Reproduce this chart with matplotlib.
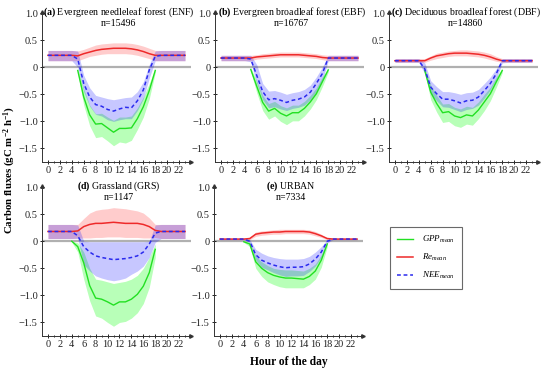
import numpy as np
import matplotlib
matplotlib.use("Agg")
import matplotlib.pyplot as plt
from matplotlib.lines import Line2D

plt.rcParams['font.family'] = ['Liberation Serif', 'DejaVu Serif']
plt.rcParams['mathtext.fontset'] = 'custom'
plt.rcParams['mathtext.rm'] = 'Liberation Serif'
plt.rcParams['mathtext.it'] = 'Liberation Serif:italic'
plt.rcParams['mathtext.bf'] = 'Liberation Serif:bold'

nan = np.nan
hours = np.arange(24)

# (a) ENF
enf_re = [0.22] * 5 + [0.21, 0.25, 0.28, 0.31, 0.33, 0.34, 0.35, 0.35, 0.35, 0.34, 0.32, 0.29, 0.25, 0.22] + [0.22] * 5
enf_re_hi = [0.31] * 5 + [0.30, 0.33, 0.37, 0.41, 0.43, 0.44, 0.45, 0.45, 0.45, 0.44, 0.42, 0.39, 0.35, 0.31] + [0.31] * 5
enf_re_lo = [0.12] * 5 + [0.12, 0.16, 0.20, 0.22, 0.24, 0.25, 0.25, 0.25, 0.25, 0.24, 0.22, 0.19, 0.16, 0.12] + [0.12] * 5
enf_nee = [0.22] * 5 + [0.15, -0.30, -0.55, -0.69, -0.72, -0.78, -0.81, -0.77, -0.74, -0.75, -0.62, -0.42, -0.05, 0.20] + [0.22] * 5
enf_nee_hi = [0.31] * 5 + [0.30, -0.15, -0.38, -0.52, -0.55, -0.58, -0.60, -0.58, -0.56, -0.55, -0.45, -0.27, 0.05, 0.30] + [0.31] * 5
enf_nee_lo = [0.12] * 5 + [0.00, -0.45, -0.72, -0.87, -0.90, -0.97, -1.00, -0.97, -0.95, -0.95, -0.80, -0.58, -0.20, 0.12] + [0.12] * 5
enf_gpp = [nan] * 5 + [-0.06, -0.55, -0.88, -1.05, -1.04, -1.12, -1.20, -1.13, -1.13, -1.12, -0.95, -0.73, -0.43, -0.06] + [nan] * 5
enf_gpp_hi = [nan] * 5 + [-0.02, -0.40, -0.70, -0.86, -0.85, -0.92, -0.98, -0.92, -0.92, -0.90, -0.75, -0.55, -0.30, -0.02] + [nan] * 5
enf_gpp_lo = [nan] * 5 + [-0.10, -0.70, -1.08, -1.30, -1.28, -1.36, -1.45, -1.38, -1.40, -1.35, -1.15, -0.92, -0.58, -0.10] + [nan] * 5

# (b) EBF
ebf_re = [0.17] * 5 + [0.17, 0.19, 0.20, 0.21, 0.22, 0.23, 0.23, 0.23, 0.23, 0.22, 0.21, 0.20, 0.18, 0.17] + [0.17] * 5
ebf_re_hi = [0.22] * 5 + [0.22, 0.23, 0.25, 0.26, 0.27, 0.28, 0.28, 0.28, 0.28, 0.27, 0.26, 0.25, 0.23, 0.22] + [0.22] * 5
ebf_re_lo = [0.12] * 5 + [0.12, 0.15, 0.16, 0.17, 0.18, 0.19, 0.19, 0.19, 0.19, 0.18, 0.17, 0.16, 0.14, 0.12] + [0.12] * 5
ebf_nee = [0.17] * 5 + [0.15, -0.15, -0.45, -0.60, -0.58, -0.61, -0.65, -0.61, -0.59, -0.55, -0.46, -0.30, -0.12, 0.17] + [0.17] * 5
ebf_nee_hi = [0.22] * 5 + [0.22, 0.05, -0.30, -0.44, -0.43, -0.46, -0.50, -0.47, -0.45, -0.41, -0.33, -0.18, 0.00, 0.22] + [0.22] * 5
ebf_nee_lo = [0.12] * 5 + [0.10, -0.30, -0.60, -0.75, -0.73, -0.77, -0.80, -0.76, -0.74, -0.70, -0.60, -0.45, -0.25, 0.12] + [0.12] * 5
ebf_gpp = [nan] * 5 + [-0.04, -0.35, -0.65, -0.81, -0.76, -0.85, -0.90, -0.84, -0.84, -0.76, -0.64, -0.49, -0.27, -0.05] + [nan] * 5
ebf_gpp_hi = [nan] * 5 + [-0.01, -0.25, -0.52, -0.67, -0.63, -0.71, -0.75, -0.70, -0.70, -0.63, -0.52, -0.38, -0.18, -0.01] + [nan] * 5
ebf_gpp_lo = [nan] * 5 + [-0.08, -0.47, -0.80, -0.96, -0.90, -1.00, -1.06, -0.99, -0.99, -0.90, -0.77, -0.60, -0.36, -0.09] + [nan] * 5

# (c) DBF
dbf_re = [0.12] * 5 + [0.12, 0.17, 0.21, 0.23, 0.25, 0.26, 0.26, 0.26, 0.25, 0.24, 0.22, 0.19, 0.15, 0.12] + [0.12] * 5
dbf_re_hi = [0.16] * 5 + [0.16, 0.21, 0.26, 0.28, 0.30, 0.31, 0.32, 0.32, 0.31, 0.30, 0.28, 0.25, 0.20, 0.16] + [0.16] * 5
dbf_re_lo = [0.09] * 5 + [0.09, 0.13, 0.16, 0.18, 0.20, 0.21, 0.21, 0.21, 0.20, 0.19, 0.17, 0.14, 0.11, 0.09] + [0.09] * 5
dbf_nee = [0.12] * 5 + [-0.03, -0.37, -0.49, -0.59, -0.59, -0.62, -0.66, -0.62, -0.61, -0.55, -0.43, -0.30, -0.12, 0.12] + [0.12] * 5
dbf_nee_hi = [0.16] * 5 + [0.08, -0.25, -0.36, -0.45, -0.45, -0.47, -0.50, -0.47, -0.46, -0.41, -0.30, -0.18, -0.03, 0.16] + [0.16] * 5
dbf_nee_lo = [0.09] * 5 + [-0.12, -0.50, -0.62, -0.73, -0.74, -0.78, -0.82, -0.78, -0.76, -0.70, -0.57, -0.42, -0.22, 0.08] + [0.09] * 5
dbf_gpp = [nan] * 5 + [-0.06, -0.46, -0.67, -0.84, -0.82, -0.90, -0.93, -0.88, -0.90, -0.79, -0.64, -0.49, -0.27, -0.06] + [nan] * 5
dbf_gpp_hi = [nan] * 5 + [-0.02, -0.33, -0.52, -0.68, -0.67, -0.74, -0.77, -0.72, -0.74, -0.64, -0.50, -0.37, -0.18, -0.02] + [nan] * 5
dbf_gpp_lo = [nan] * 5 + [-0.10, -0.60, -0.83, -1.02, -1.00, -1.08, -1.11, -1.05, -1.07, -0.95, -0.80, -0.62, -0.37, -0.10] + [nan] * 5

# (d) GRS
grs_re = [0.18] * 5 + [0.19, 0.27, 0.31, 0.33, 0.33, 0.34, 0.35, 0.34, 0.33, 0.33, 0.33, 0.31, 0.27, 0.20] + [0.18] * 5
grs_re_hi = [0.31] * 5 + [0.31, 0.42, 0.52, 0.57, 0.59, 0.60, 0.62, 0.61, 0.60, 0.58, 0.56, 0.52, 0.43, 0.31] + [0.31] * 5
grs_re_lo = [0.05] * 5 + [0.06, 0.06, 0.06, 0.07, 0.07, 0.08, 0.08, 0.08, 0.07, 0.07, 0.07, 0.06, 0.06, 0.07] + [0.05] * 5
grs_nee = [0.18] * 5 + [0.10, -0.10, -0.20, -0.27, -0.30, -0.32, -0.34, -0.33, -0.32, -0.30, -0.27, -0.20, -0.05, 0.15] + [0.18] * 5
grs_nee_hi = [0.31] * 5 + [0.30, 0.00, -0.01, -0.01, -0.01, -0.01, -0.01, -0.01, -0.01, -0.01, -0.01, -0.01, 0.00, 0.30] + [0.31] * 5
grs_nee_lo = [0.05] * 5 + [0.05, -0.43, -0.55, -0.64, -0.68, -0.71, -0.73, -0.71, -0.68, -0.61, -0.55, -0.46, -0.30, -0.02] + [0.05] * 5
grs_gpp = [nan] * 4 + [0.00, -0.10, -0.40, -0.82, -1.05, -1.07, -1.12, -1.18, -1.12, -1.12, -1.07, -0.98, -0.83, -0.58, -0.15] + [nan] * 5
grs_gpp_hi = [nan] * 4 + [0.00, -0.03, -0.20, -0.50, -0.70, -0.72, -0.75, -0.78, -0.76, -0.74, -0.70, -0.63, -0.50, -0.30, -0.05] + [nan] * 5
grs_gpp_lo = [nan] * 4 + [-0.02, -0.20, -0.70, -1.10, -1.38, -1.42, -1.50, -1.57, -1.50, -1.48, -1.42, -1.32, -1.15, -0.85, -0.30] + [nan] * 5

# (e) URBAN
urb_re = [0.04] * 5 + [0.05, 0.13, 0.15, 0.16, 0.17, 0.17, 0.18, 0.18, 0.18, 0.18, 0.17, 0.14, 0.10, 0.05] + [0.04] * 5
urb_re_hi = [0.05] * 5 + [0.06, 0.17, 0.19, 0.20, 0.21, 0.22, 0.22, 0.22, 0.22, 0.22, 0.21, 0.18, 0.13, 0.06] + [0.05] * 5
urb_re_lo = [0.03] * 5 + [0.03, 0.09, 0.11, 0.12, 0.13, 0.13, 0.14, 0.14, 0.14, 0.14, 0.13, 0.10, 0.07, 0.03] + [0.03] * 5
urb_nee = [0.04] * 5 + [0.00, -0.25, -0.35, -0.40, -0.44, -0.47, -0.49, -0.48, -0.48, -0.47, -0.42, -0.33, -0.20, 0.00] + [0.04] * 5
urb_nee_hi = [0.05] * 5 + [0.03, -0.15, -0.22, -0.27, -0.30, -0.32, -0.33, -0.33, -0.33, -0.32, -0.28, -0.20, -0.10, 0.03] + [0.05] * 5
urb_nee_lo = [0.03] * 5 + [-0.03, -0.35, -0.48, -0.53, -0.58, -0.62, -0.65, -0.64, -0.64, -0.63, -0.56, -0.46, -0.30, -0.03] + [0.03] * 5
urb_gpp = [nan] * 4 + [-0.01, -0.05, -0.38, -0.50, -0.58, -0.63, -0.66, -0.68, -0.68, -0.69, -0.70, -0.65, -0.55, -0.35, -0.05] + [nan] * 5
urb_gpp_hi = [nan] * 4 + [0.00, -0.02, -0.28, -0.38, -0.45, -0.50, -0.52, -0.53, -0.53, -0.54, -0.55, -0.50, -0.42, -0.25, -0.02] + [nan] * 5
urb_gpp_lo = [nan] * 4 + [-0.02, -0.10, -0.50, -0.65, -0.75, -0.80, -0.84, -0.86, -0.86, -0.86, -0.86, -0.80, -0.70, -0.48, -0.10] + [nan] * 5

titles = [r"$\mathbf{(a)}$ Evergreen needleleaf forest (ENF)",
          r"$\mathbf{(b)}$ Evergreen broadleaf forest (EBF)",
          r"$\mathbf{(c)}$ Deciduous broadleaf forest (DBF)",
          r"$\mathbf{(d)}$ Grassland (GRS)",
          r"$\mathbf{(e)}$ URBAN"]
counts = ["n=15496", "n=16767", "n=14860", "n=1147", "n=7334"]

GREEN = '#22e022'
RED = '#ee2a2a'
BLUE = '#2a2aee'

fig = plt.figure(figsize=(5.5, 3.7), dpi=100)

# axes placement in pixels: spine x, x-axis y (from top of figure)
W, H = 550, 370
boxes = [(42, 162), (215, 162), (389, 162), (42, 336), (214, 336)]


def draw_panel(ax, title, count, gpp, gpp_lo, gpp_hi, re, re_lo, re_hi, nee, nee_lo, nee_hi):
    ax.axhline(0, color='#b0b0b0', lw=1.6, zorder=1)
    ax.fill_between(hours, gpp_lo, gpp_hi, color='#00ff00', alpha=0.28, lw=0, zorder=2)
    ax.fill_between(hours, re_lo, re_hi, color='#ff0000', alpha=0.2, lw=0, zorder=2)
    ax.fill_between(hours, nee_lo, nee_hi, color='#0000ff', alpha=0.22, lw=0, zorder=2)
    ax.plot(hours, gpp, color=GREEN, lw=1.0, zorder=3)
    ax.plot(hours, re, color=RED, lw=1.1, zorder=3)
    ax.plot(hours, nee, color=BLUE, lw=1.1, ls=(0, (2.5, 1.8)), zorder=4)

    ax.set_xlim(-1, 24)
    ax.set_ylim(-1.75, 1.02)
    ax.set_xticks(np.arange(0, 23, 2))
    ax.set_xticks(np.arange(0, 24, 1), minor=True)
    ax.set_yticks([1.0, 0.5, 0, -0.5, -1.0, -1.5])
    ax.set_yticklabels(["1.0", "0.5", "0", "\u22120.5", "\u22121.0", "\u22121.5"])
    ax.tick_params(axis='both', which='major', direction='inout', length=3, width=0.7,
                   labelsize=7.5, pad=1.5, colors='#222222')
    ax.tick_params(axis='x', which='minor', direction='inout', length=1.6, width=0.6)
    for s in ['top', 'right']:
        ax.spines[s].set_visible(False)
    for s in ['left', 'bottom']:
        ax.spines[s].set_linewidth(0.7)
        ax.spines[s].set_color('#333333')
    # arrow heads at the axis ends
    ax.plot(1, 0, marker='>', ms=2.5, color='#333333', transform=ax.transAxes, clip_on=False)
    ax.plot(0, 1, marker='^', ms=2.5, color='#333333', transform=ax.transAxes, clip_on=False)

    ax.text(0.515, 1.0, title, transform=ax.transAxes, ha='center', va='center', fontsize=7.1)
    ax.text(0.515, 0.922, count, transform=ax.transAxes, ha='center', va='center', fontsize=7.1)


data = [
    (enf_gpp, enf_gpp_lo, enf_gpp_hi, enf_re, enf_re_lo, enf_re_hi, enf_nee, enf_nee_lo, enf_nee_hi),
    (ebf_gpp, ebf_gpp_lo, ebf_gpp_hi, ebf_re, ebf_re_lo, ebf_re_hi, ebf_nee, ebf_nee_lo, ebf_nee_hi),
    (dbf_gpp, dbf_gpp_lo, dbf_gpp_hi, dbf_re, dbf_re_lo, dbf_re_hi, dbf_nee, dbf_nee_lo, dbf_nee_hi),
    (grs_gpp, grs_gpp_lo, grs_gpp_hi, grs_re, grs_re_lo, grs_re_hi, grs_nee, grs_nee_lo, grs_nee_hi),
    (urb_gpp, urb_gpp_lo, urb_gpp_hi, urb_re, urb_re_lo, urb_re_hi, urb_nee, urb_nee_lo, urb_nee_hi),
]

axes = []
for (left, bottom), title, count, d in zip(boxes, titles, counts, data):
    ax = fig.add_axes([left / W, (H - bottom) / H, 149 / W, 150 / H])
    draw_panel(ax, title, count, *d)
    axes.append(ax)

axes[4].set_xlabel("Hour of the day", fontsize=8.3, fontweight='bold', labelpad=5)
fig.text(10 / W, (H - 170) / H, r"Carbon fluxes (gC m$^{\mathbf{-2}}$ h$^{\mathbf{-1}}$)", rotation=90,
         ha='center', va='center', fontsize=7.8, fontweight='bold')

handles = [Line2D([], [], color=GREEN, lw=1.0),
           Line2D([], [], color=RED, lw=1.1),
           Line2D([], [], color=BLUE, lw=1.1, ls=(0, (2.5, 1.8)))]
labels = [r"$GPP_{mean}$", r"$Re_{mean}$", r"$NEE_{mean}$"]
leg = fig.legend(handles, labels, loc='upper left', bbox_to_anchor=(390 / W, (H - 227) / H),
                 fontsize=6.5, frameon=True, fancybox=False, handlelength=1.8,
                 borderpad=0.8, labelspacing=0.75, handletextpad=0.9, borderaxespad=0)
leg.get_frame().set_edgecolor('#444444')
leg.get_frame().set_linewidth(0.8)

fig.savefig("out.png", dpi=100)
